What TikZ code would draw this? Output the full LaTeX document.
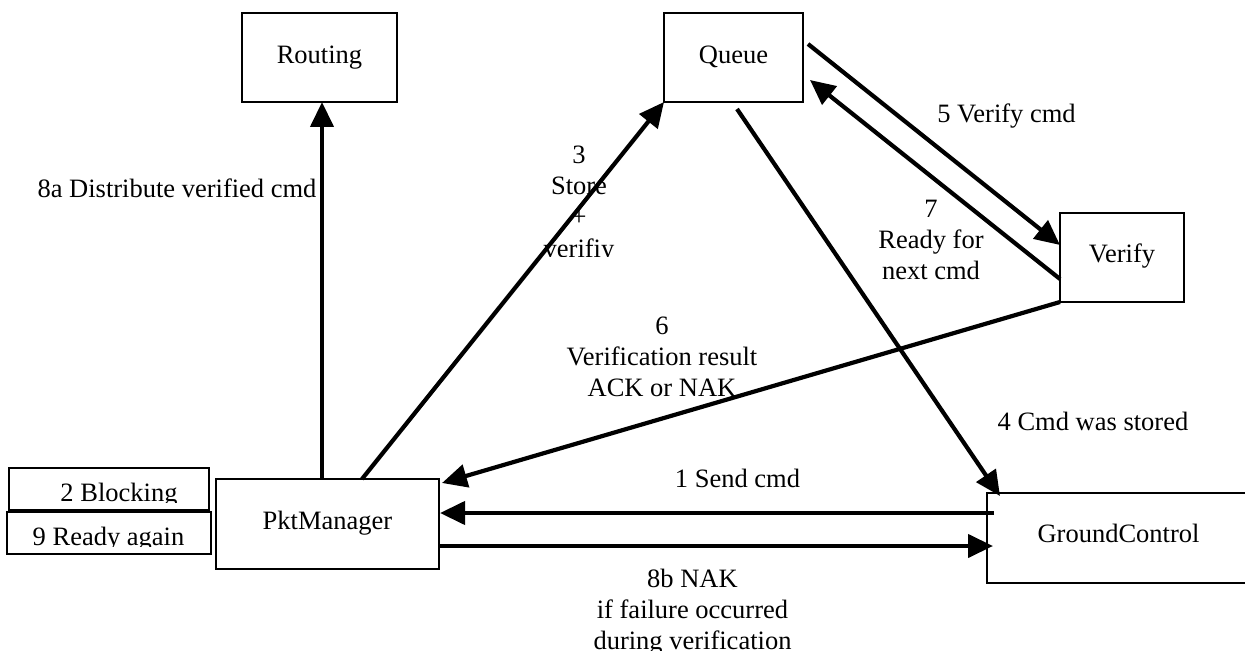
\documentclass[tikz,border=0pt]{standalone}
\usepackage{fontspec}
\setmainfont{Liberation Serif}
\usetikzlibrary{arrows.meta,calc}
\newcommand\diagfont{\fontsize{26.5}{31.3}\selectfont}
\tikzset{
  box/.style={draw, line width=1.8pt, inner sep=0pt, outer sep=0pt, anchor=north west, font=\diagfont},
  lbl/.style={inner sep=0pt, font=\diagfont, anchor=base},
  mlbl/.style={inner sep=0pt, font=\diagfont, anchor=north, align=center},
  conn/.style={line width=4.2pt, -{Triangle[length=25pt,width=23pt]}},
}
\begin{document}
\begin{tikzpicture}[x=1pt,y=-1pt]
\useasboundingbox (0,0) rectangle (1245,655);
\clip (0,0) rectangle (1245,655);

% components
\node[box, minimum width=155pt, text height=51pt, text depth=38pt] (routing) at (242,13) {Routing};
\node[box, minimum width=139pt, text height=51pt, text depth=38pt] (queue) at (664,13) {Queue};
\node[box, minimum width=124pt, text height=49pt, text depth=40pt] (verify) at (1060,213) {Verify};
\node[box, minimum width=223pt, text height=50pt, text depth=40pt] (pkt) at (216,479) {PktManager};
\node[box, minimum width=263pt, text height=49pt, text depth=41pt] (gc) at (987,493) {GroundControl};

% state boxes beside the packet manager
\node[box, minimum width=200pt, minimum height=42pt] (blk) at (9,468) {};
\node[box, minimum width=204pt, minimum height=42pt] (rdy) at (7,512) {};
\begin{scope}
  \clip (9,468) rectangle (209,502);
  \node[lbl] (blktxt) at (119,501) {2 Blocking};
\end{scope}
\begin{scope}
  \clip (7,512) rectangle (211,546);
  \node[lbl] (rdytxt) at (108.5,545) {9 Ready again};
\end{scope}

% message labels
\node[lbl] (l8a) at (177,198) {8a Distribute verified cmd};
\node[lbl] (l5) at (1006.5,123) {5 Verify cmd};
\node[lbl] (l4) at (1093,430) {4 Cmd was stored};
\node[lbl] (l1) at (737.5,487) {1 Send cmd};
\begin{scope}
  \clip (430,100) rectangle (730,256);
  \node[mlbl] (l3) at (579,141.1) {\strut 3\\Store\\+\\verifiy};
\end{scope}
\node[mlbl] (l7) at (931,195.1) {\strut 7\\Ready for\\next cmd};
\node[mlbl] (l6) at (662,312.1) {\strut 6\\Verification result\\ACK or NAK};
\begin{scope}
  \clip (450,550) rectangle (950,650);
  \node[mlbl] (l8b) at (692.5,565.1) {\strut 8b NAK\\if failure occurred\\during verification};
\end{scope}

% messages
\draw[conn] ($(pkt.north west)+(106,0)$) -- ($(routing.south west)+(80,0)$);
\draw[conn] ($(pkt.north west)+(146,0)$) -- (queue.south west);
\draw[conn] ($(queue.south west)+(73,7)$) -- ($(gc.north west)+(13,3)$);
\draw[conn] ($(queue.north east)+(5,31)$) -- ($(verify.north west)+(0,32)$);
\draw[conn] ($(verify.north west)+(0,66)$) -- ($(queue.north east)+(7,67)$);
\draw[conn] (verify.south west) -- ($(pkt.north east)+(3,4)$);
\draw[conn] ($(gc.north west)+(7,20)$) -- ($(pkt.north east)+(1,34)$);
\draw[conn] ($(pkt.north east)+(0,67)$) -- ($(gc.north west)+(6,53)$);
\end{tikzpicture}
\end{document}
